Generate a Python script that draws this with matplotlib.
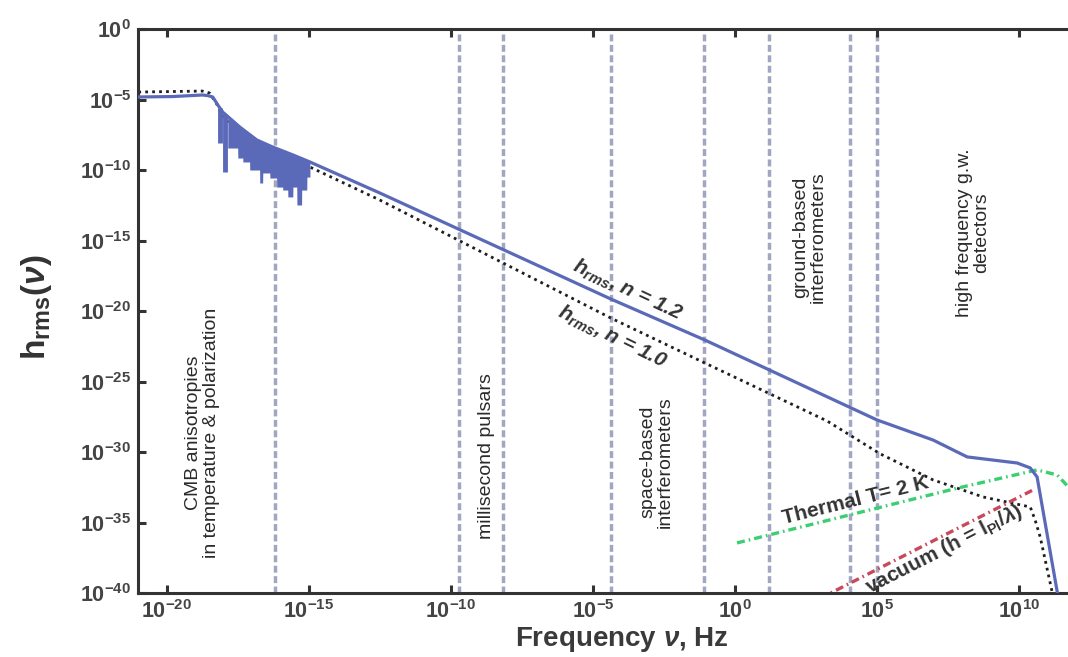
import numpy as np
import matplotlib
matplotlib.use('Agg')
import matplotlib.pyplot as plt

plt.rcParams['font.family'] = ['Liberation Sans', 'DejaVu Sans']
plt.rcParams['mathtext.fontset'] = 'custom'
plt.rcParams['mathtext.rm'] = 'Liberation Sans:bold'
plt.rcParams['mathtext.it'] = 'Liberation Sans:bold:italic'
plt.rcParams['mathtext.bf'] = 'Liberation Sans:bold'

# everything below is log10 of the value
# h_rms for n = 1.2 (solid line)
n12_logf = [-21.0, -19.79, -18.75, -18.56, -18.38, -18.20, -18.03, -17.43, -16.83,
            -16.27, -15.56, -14.96, -12.50, -4.37, -1.06, 5.0, 6.97, 8.17, 9.93,
            10.39, 10.63, 11.34, 11.45]
n12_logh = [-4.80, -4.77, -4.66, -4.70, -4.80, -5.37, -5.87, -6.93, -7.85,
            -8.35, -8.91, -9.41, -11.61, -19.13, -22.04, -27.71, -29.13, -30.33, -30.76,
            -31.11, -31.75, -39.91, -41.0]

# h_rms for n = 1.0 (dotted line)
n10_logf = [-21.0, -18.75, -18.49, -18.24, -17.96, -16.5, -14.96, -12.50, -4.37, -1.06,
            3.24, 5.1, 6.97, 8.73, 10.39, 10.56, 10.74, 11.16, 11.25]
n10_logh = [-4.45, -4.38, -4.52, -5.30, -6.4, -8.6, -9.77, -12.11, -20.48, -23.67,
            -27.78, -30.1, -31.96, -33.17, -33.88, -34.80, -36.01, -39.91, -41.0]

# CMB oscillations: stepped lower edge of the filled spikes
cmb_floor_logf = [-17.85, -17.50, -17.32, -17.08, -16.73, -16.62, -16.37, -16.13,
                  -15.92, -15.74, -15.56, -15.42, -15.25, -15.07, -14.96]
cmb_floor_logh = [-8.42, -9.13, -9.41, -9.98, -10.90, -10.19, -10.55, -11.19,
                  -11.40, -11.89, -11.19, -12.46, -11.40, -10.48, -10.48]
# two single spikes just before the filled part
spike_logf = [-18.13, -17.94]
spike_logh = [-8.06, -10.12]

# thermal T = 2 K (green dash-dot)
thermal_logf = [0.07, 7.81, 10.63, 11.34, 11.73, 12.1]
thermal_logh = [-36.43, -32.55, -31.25, -31.61, -32.46, -34.0]

# vacuum (red dash-dot)
vacuum_logf = [3.0, 10.49]
vacuum_logh = [-40.36, -32.67]

# detector band edges (vertical dashed lines)
band_logf = [-16.2, -9.7, -8.15, -4.35, -1.08, 1.2, 4.05, 5.0]

x_tick_exp = [-20, -15, -10, -5, 0, 5, 10]
y_tick_exp = [0, -5, -10, -15, -20, -25, -30, -35, -40]

blue = '#5a6ab8'

fig = plt.figure(figsize=(10.68, 6.57), dpi=100)
ax = fig.add_axes([0.1295, 0.097, 0.878, 0.8584])
ax.set_xscale('log')
ax.set_yscale('log')
ax.set_xlim(1e-21, 1e12)
ax.set_ylim(1e-40, 1e0)

for b in band_logf:
    ax.axvline(10 ** b, color='#a2a6c0', lw=2.5, dashes=(2.0, 1.0), zorder=1)

# filled spike region, upper edge follows the solid curve
xs = np.linspace(cmb_floor_logf[0], cmb_floor_logf[-1], 600)
up = np.interp(xs, n12_logf, n12_logh)
idx = np.clip(np.searchsorted(cmb_floor_logf, xs, side='right') - 1, 0, len(cmb_floor_logh) - 1)
fl = np.array(cmb_floor_logh)[idx]
ax.fill_between(10 ** xs, 10 ** fl, 10 ** up, color=blue, lw=0, zorder=3)
for f, h in zip(spike_logf, spike_logh):
    top = np.interp(f, n12_logf, n12_logh)
    ax.vlines(10 ** f, 10 ** h, 10 ** top, color=blue, lw=3.5, zorder=3)

ax.plot(10 ** np.array(n10_logf), 10 ** np.array(n10_logh), color='#1e1e1e',
        lw=2.0, linestyle=(0, (1, 1.5)), zorder=2)
ax.plot(10 ** np.array(n12_logf), 10 ** np.array(n12_logh), color=blue, lw=2.3, zorder=4)
ax.plot(10 ** np.array(thermal_logf), 10 ** np.array(thermal_logh), color='#3ccf72',
        lw=2.4, dashes=(2.4, 1.2, 0.5, 1.2), zorder=2)
ax.plot(10 ** np.array(vacuum_logf), 10 ** np.array(vacuum_logh), color='#c9495c',
        lw=2.4, dashes=(2.4, 1.2, 0.5, 1.2), zorder=2)

ax.set_xticks([10.0 ** e for e in x_tick_exp])
ax.set_xticklabels([r'$\mathbf{10^{%d}}$' % e for e in x_tick_exp])
ax.set_yticks([10.0 ** e for e in y_tick_exp])
ax.set_yticklabels([r'$\mathbf{10^{%d}}$' % e for e in y_tick_exp])
ax.minorticks_off()
ax.tick_params(direction='in', length=5.5, width=2.2, colors='#333333',
               labelsize=15.5, labelcolor='#444444', pad=5, top=True, right=True)
for s in ax.spines.values():
    s.set_linewidth(2.2)
    s.set_color('#333333')

band_kw = dict(rotation=90, ha='center', va='center', fontsize=14, color='#2a2a2a',
               family=['Liberation Sans Narrow', 'Liberation Sans'], linespacing=1.05)
ax.text(10 ** -18.73, 10 ** -28.63, 'CMB anisotropies\nin temperature & polarization', **band_kw)
ax.text(10 ** -8.73, 10 ** -30.26, 'millisecond pulsars', **band_kw)
ax.text(10 ** -2.75, 10 ** -30.69, 'space-based\ninterferometers', **band_kw)
ax.text(10 ** 2.61, 10 ** -14.73, 'ground-based\ninterferometers', **band_kw)
ax.text(10 ** 8.38, 10 ** -14.45, 'high frequency g.w.\ndetectors', **band_kw)

lab_kw = dict(ha='center', va='center', fontsize=15, fontweight='bold', color='#333333',
              rotation_mode='anchor')
ax.text(10 ** -3.77, 10 ** -18.49, r'$h_{rms}$, n = 1.2', rotation=-25, style='italic', **lab_kw)
ax.text(10 ** -4.33, 10 ** -21.82, r'$h_{rms}$, n = 1.0', rotation=-26, style='italic', **lab_kw)
ax.text(10 ** 4.23, 10 ** -33.45, 'Thermal T= 2 K', rotation=14, **lab_kw)
ax.text(10 ** 7.36, 10 ** -36.86, r'vacuum (h = $\mathrm{l}_{\mathrm{Pl}}$/$\lambda$)',
        rotation=27, **lab_kw)

fig.text(36 / 1068, 1 - 307 / 657, r'h$_{\mathrm{rms}}$($\nu$)', rotation=90, ha='center',
         va='center', fontsize=24, fontweight='bold', color='#333333')
fig.text(622 / 1068, 1 - 640 / 657, r'Frequency $\nu$, Hz', ha='center', va='center',
         fontsize=20, fontweight='bold', color='#3a3a3a')

fig.savefig('out.png', dpi=100)
